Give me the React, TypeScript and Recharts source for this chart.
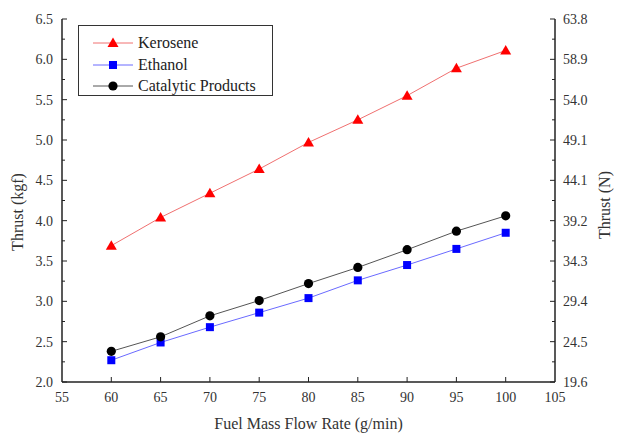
import { Line, LineChart, XAxis, YAxis } from "recharts";

const flowRates = [60, 65, 70, 75, 80, 85, 90, 95, 100];
const kerosene = [3.69, 4.04, 4.34, 4.64, 4.97, 5.25, 5.55, 5.89, 6.11];
const ethanol = [2.27, 2.49, 2.68, 2.86, 3.04, 3.26, 3.45, 3.65, 3.85];
const catalytic = [2.38, 2.56, 2.82, 3.01, 3.22, 3.42, 3.64, 3.87, 4.06];

const xTicks = [55, 60, 65, 70, 75, 80, 85, 90, 95, 100, 105];
const kgfTicks = [2.0, 2.25, 2.5, 2.75, 3.0, 3.25, 3.5, 3.75, 4.0, 4.25, 4.5, 4.75, 5.0, 5.25, 5.5, 5.75, 6.0, 6.25, 6.5];
const newtonLabels = ["19.6", "24.5", "29.4", "34.3", "39.2", "44.1", "49.1", "54.0", "58.9", "63.8"];

const data = flowRates.map((f, i) => ({
  flow: f,
  kerosene: kerosene[i],
  ethanol: ethanol[i],
  catalytic: catalytic[i],
}));

const FONT = "'Liberation Serif', 'Times New Roman', serif";
const AXIS = "#222";
const MARGIN = 8;

const isMajor = (v: number) => Math.abs(v * 2 - Math.round(v * 2)) < 1e-6;

function LeftTick(props: any) {
  const { x, y, payload } = props;
  const ax = x + MARGIN;
  const major = isMajor(payload.value);
  return (
    <g>
      <line x1={ax} x2={ax + (major ? 5 : 3)} y1={y} y2={y} stroke={AXIS} strokeWidth={1} />
      {major && (
        <text x={ax - 9} y={y} dy={5} textAnchor="end" fontFamily={FONT} fontSize={14} fill="#333">
          {payload.value.toFixed(1)}
        </text>
      )}
    </g>
  );
}

function RightTick(props: any) {
  const { x, y, payload } = props;
  const ax = x - MARGIN;
  const major = isMajor(payload.value);
  const idx = Math.round((payload.value - 2) * 2);
  return (
    <g>
      <line x1={ax} x2={ax - (major ? 5 : 3)} y1={y} y2={y} stroke={AXIS} strokeWidth={1} />
      {major && (
        <text x={ax + 8} y={y} dy={5} textAnchor="start" fontFamily={FONT} fontSize={14} fill="#333">
          {newtonLabels[idx]}
        </text>
      )}
    </g>
  );
}

function BottomTick(props: any) {
  const { x, y, payload } = props;
  const ay = y - MARGIN;
  const edge = payload.value === 55 || payload.value === 105;
  return (
    <g>
      {!edge && <line x1={x} x2={x} y1={ay} y2={ay - 5} stroke={AXIS} strokeWidth={1} />}
      <text x={x} y={ay + 20} textAnchor="middle" fontFamily={FONT} fontSize={14} fill="#333">
        {payload.value}
      </text>
    </g>
  );
}

function Triangle(props: any) {
  const { cx, cy } = props;
  if (cx == null || cy == null) return null;
  return <path d={`M${cx},${cy - 5.5} L${cx + 5.5},${cy + 4} L${cx - 5.5},${cy + 4} Z`} fill="#ff0000" />;
}

function Square(props: any) {
  const { cx, cy } = props;
  if (cx == null || cy == null) return null;
  return <rect x={cx - 4} y={cy - 4} width={8} height={8} fill="#0000ff" />;
}

function Circle(props: any) {
  const { cx, cy } = props;
  if (cx == null || cy == null) return null;
  return <circle cx={cx} cy={cy} r={4.6} fill="#000" />;
}

const legendItems = [
  { name: "Kerosene", line: "#f07070", marker: <path d="M20,1.5 L25.5,11 L14.5,11 Z" fill="#ff0000" /> },
  { name: "Ethanol", line: "#6a6aff", marker: <rect x={16} y={3} width={8} height={8} fill="#0000ff" /> },
  { name: "Catalytic Products", line: "#555", marker: <circle cx={20} cy={7} r={4.6} fill="#000" /> },
];

function LegendBox() {
  return (
    <div
      style={{
        position: "absolute",
        left: 78,
        top: 25,
        width: 193,
        height: 63,
        paddingTop: 6,
        border: "1px solid #333",
        fontFamily: FONT,
        fontSize: 16,
        color: "#222",
        background: "#fff",
      }}
    >
      {legendItems.map((it) => (
        <div key={it.name} style={{ display: "flex", alignItems: "center", height: 21.7 }}>
          <svg width={40} height={14} style={{ marginLeft: 14, display: "block" }}>
            <line x1={0} x2={40} y1={7} y2={7} stroke={it.line} strokeWidth={1} />
            {it.marker}
          </svg>
          <span style={{ marginLeft: 5, lineHeight: "16px", whiteSpace: "nowrap" }}>{it.name}</span>
        </div>
      ))}
    </div>
  );
}

export default function App() {
  return (
    <div style={{ position: "absolute", left: 0, top: 0, width: 619, height: 435, background: "#fff" }}>
      <LineChart width={619} height={435} data={data} margin={{ top: 19, right: 0, bottom: 0, left: 0 }}>
        <XAxis
          dataKey="flow"
          type="number"
          domain={[55, 105]}
          ticks={xTicks}
          interval={0}
          height={53}
          tickSize={0}
          tickMargin={MARGIN}
          tickLine={false}
          axisLine={{ stroke: AXIS, strokeWidth: 1.5 }}
          tick={<BottomTick />}
          label={{
            content: (p: any) => (
              <text
                x={p.viewBox.x + p.viewBox.width / 2}
                y={p.viewBox.y + 47}
                textAnchor="middle"
                fontFamily={FONT}
                fontSize={16}
                fill="#333"
              >
                Fuel Mass Flow Rate (g/min)
              </text>
            ),
          }}
        />
        <YAxis
          yAxisId="kgf"
          type="number"
          domain={[2, 6.5]}
          ticks={kgfTicks}
          interval={0}
          width={62}
          tickSize={0}
          tickMargin={MARGIN}
          tickLine={false}
          axisLine={{ stroke: AXIS, strokeWidth: 1.5 }}
          tick={<LeftTick />}
          label={{
            content: () => (
              <text
                x={0}
                y={0}
                transform="translate(23,212) rotate(-90)"
                textAnchor="middle"
                fontFamily={FONT}
                fontSize={16}
                fill="#333"
              >
                Thrust (kgf)
              </text>
            ),
          }}
        />
        <YAxis
          yAxisId="n"
          orientation="right"
          type="number"
          domain={[2, 6.5]}
          ticks={kgfTicks}
          interval={0}
          width={64}
          tickSize={0}
          tickMargin={MARGIN}
          tickLine={false}
          axisLine={{ stroke: AXIS, strokeWidth: 1.5 }}
          tick={<RightTick />}
          label={{
            content: () => (
              <text
                x={0}
                y={0}
                transform="translate(610,205) rotate(-90)"
                textAnchor="middle"
                fontFamily={FONT}
                fontSize={16}
                fill="#333"
              >
                Thrust (N)
              </text>
            ),
          }}
        />
        <Line
          yAxisId="kgf"
          dataKey="kerosene"
          name="Kerosene"
          stroke="#f07070"
          strokeWidth={1}
          dot={<Triangle />}
          activeDot={false}
          isAnimationActive={false}
        />
        <Line
          yAxisId="kgf"
          dataKey="ethanol"
          name="Ethanol"
          stroke="#6a6aff"
          strokeWidth={1}
          dot={<Square />}
          activeDot={false}
          isAnimationActive={false}
        />
        {/* same [2, 6.5] domain as the kgf axis, bound here so the N axis is drawn */}
        <Line
          yAxisId="n"
          dataKey="catalytic"
          name="Catalytic Products"
          stroke="#555"
          strokeWidth={1}
          dot={<Circle />}
          activeDot={false}
          isAnimationActive={false}
        />
      </LineChart>
      <LegendBox />
    </div>
  );
}
